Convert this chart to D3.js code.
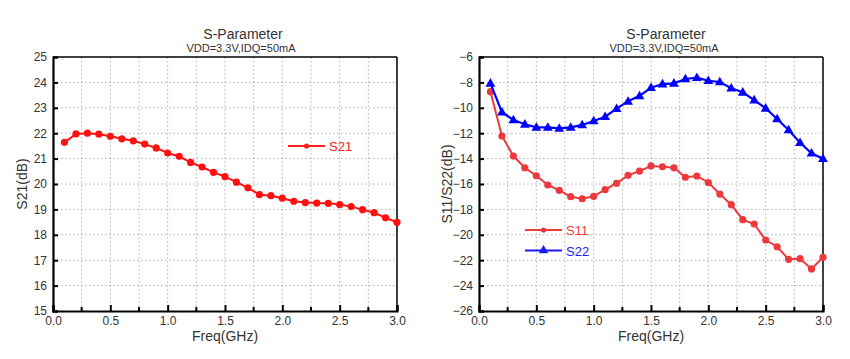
<!DOCTYPE html>
<html>
<head>
<meta charset="utf-8">
<script src="https://cdn.jsdelivr.net/npm/d3@7"></script>
<style>
  html, body { margin: 0; padding: 0; background: #fff; }
  svg { display: block; font-family: "Liberation Sans", Arial, sans-serif; }
</style>
</head>
<body>
<svg id="chart" width="850" height="359"></svg>
<script>
const freq = [0.1,0.2,0.3,0.4,0.5,0.6,0.7,0.8,0.9,1.0,1.1,1.2,1.3,1.4,1.5,1.6,1.7,1.8,1.9,2.0,2.1,2.2,2.3,2.4,2.5,2.6,2.7,2.8,2.9,3.0];
const s21 = [21.64,21.97,22.0,21.96,21.88,21.78,21.70,21.57,21.42,21.22,21.09,20.85,20.67,20.46,20.29,20.07,19.85,19.58,19.54,19.44,19.32,19.27,19.25,19.24,19.19,19.11,18.99,18.87,18.67,18.49];
const s11 = [-8.73,-12.22,-13.8,-14.72,-15.35,-16.08,-16.5,-17.0,-17.16,-16.97,-16.45,-15.94,-15.32,-14.98,-14.58,-14.64,-14.72,-15.47,-15.37,-15.88,-16.79,-17.63,-18.81,-19.15,-20.41,-20.94,-21.93,-21.88,-22.69,-21.77];
const s22 = [-8.07,-10.35,-10.96,-11.3,-11.54,-11.54,-11.62,-11.54,-11.35,-11.04,-10.7,-10.07,-9.49,-9.06,-8.42,-8.13,-8.07,-7.73,-7.63,-7.87,-7.97,-8.46,-8.78,-9.39,-10.04,-10.88,-11.75,-12.75,-13.58,-14.01];
const xTicks = [0.0,0.5,1.0,1.5,2.0,2.5,3.0];
const xMinor = [0.25,0.75,1.25,1.75,2.25,2.75];
const yTicksLeft = [15,16,17,18,19,20,21,22,23,24,25];
const yTicksRight = [-26,-24,-22,-20,-18,-16,-14,-12,-10,-8,-6];
const titleText = "S-Parameter";
const subtitleText = "VDD=3.3V,IDQ=50mA";

const svg = d3.select("#chart");

function panel(opts) {
  const g = svg.append("g");
  const x = d3.scaleLinear().domain([0,3]).range([opts.x0, opts.x1]);
  const y = d3.scaleLinear().domain(opts.yDomain).range([opts.y1, opts.y0]);

  // grid
  const gridX = xTicks.concat(xMinor).filter(v => v > 0 && v < 3);
  g.selectAll(".gx").data(gridX).enter().append("line")
    .attr("x1", d => x(d)).attr("x2", d => x(d))
    .attr("y1", opts.y0).attr("y2", opts.y1)
    .attr("stroke", "#b0b0b0").attr("stroke-width", 1).attr("stroke-dasharray", "1.5,2.5");
  const gridY = opts.yTicks.slice(1, -1);
  g.selectAll(".gy").data(gridY).enter().append("line")
    .attr("x1", opts.x0).attr("x2", opts.x1)
    .attr("y1", d => y(d)).attr("y2", d => y(d))
    .attr("stroke", "#b0b0b0").attr("stroke-width", 1).attr("stroke-dasharray", "1.5,2.5");

  // frame top/right
  g.append("line").attr("x1", opts.x0).attr("x2", opts.x1).attr("y1", opts.y0).attr("y2", opts.y0)
    .attr("stroke", "#000").attr("stroke-width", 1.5);
  g.append("line").attr("x1", opts.x1).attr("x2", opts.x1).attr("y1", opts.y0).attr("y2", opts.y1)
    .attr("stroke", "#000").attr("stroke-width", 1.5);

  // axes
  const xAxis = d3.axisBottom(x).tickValues(xTicks).tickFormat(d3.format(".1f")).tickSize(-6).tickPadding(5);
  const gx = g.append("g").attr("transform", `translate(0,${opts.y1})`).call(xAxis);
  gx.select(".domain").attr("stroke", "#000").attr("stroke-width", 2.2);
  gx.selectAll(".tick line").attr("stroke", "#000").attr("stroke-width", 2);
  gx.selectAll(".tick text").attr("font-size", 12).attr("fill", "#333").attr("font-family", "Liberation Sans, Arial, sans-serif");
  g.selectAll(".mx").data(xMinor).enter().append("line")
    .attr("x1", d => x(d)).attr("x2", d => x(d))
    .attr("y1", opts.y1).attr("y2", opts.y1 - 4)
    .attr("stroke", "#000").attr("stroke-width", 2);

  const yAxis = d3.axisLeft(y).tickValues(opts.yTicks).tickFormat(d3.format("d")).tickSize(-5).tickPadding(6);
  const gy = g.append("g").attr("transform", `translate(${opts.x0},0)`).call(yAxis);
  gy.select(".domain").attr("stroke", "#000").attr("stroke-width", 2.2);
  gy.selectAll(".tick line").attr("stroke", "#000").attr("stroke-width", 2);
  gy.selectAll(".tick text").attr("font-size", 12).attr("fill", "#333").attr("font-family", "Liberation Sans, Arial, sans-serif");

  // axis titles
  g.append("text").attr("x", (opts.x0 + opts.x1) / 2).attr("y", 341)
    .attr("text-anchor", "middle").attr("font-size", 14).attr("fill", "#333")
    .text("Freq(GHz)");
  g.append("text").attr("transform", `translate(${opts.yLabelX},${(opts.y0 + opts.y1) / 2}) rotate(-90)`)
    .attr("text-anchor", "middle").attr("font-size", 14).attr("fill", "#333")
    .text(opts.yLabel);

  // titles
  g.append("text").attr("x", opts.titleX).attr("y", 39).attr("text-anchor", "middle")
    .attr("font-size", 14).attr("fill", "#333").text(titleText);
  g.append("text").attr("x", opts.titleX - 2).attr("y", 52).attr("text-anchor", "middle")
    .attr("font-size", 11).attr("fill", "#333").text(subtitleText);

  return {g, x, y};
}

function series(p, values, color, marker, width) {
  const data = freq.map((f, i) => [f, values[i]]);
  const line = d3.line().x(d => p.x(d[0])).y(d => p.y(d[1]));
  p.g.append("path").datum(data).attr("d", line).attr("fill", "none")
    .attr("stroke", color).attr("stroke-width", width);
  drawMarkers(p.g, data.map(d => [p.x(d[0]), p.y(d[1])]), color, marker);
}

function drawMarkers(g, pts, color, marker) {
  if (marker === "circle") {
    g.selectAll(null).data(pts).enter().append("circle")
      .attr("cx", d => d[0]).attr("cy", d => d[1]).attr("r", 3.6).attr("fill", color);
  } else {
    const sym = d3.symbol().type(d3.symbolTriangle).size(42);
    g.selectAll(null).data(pts).enter().append("path")
      .attr("d", sym).attr("transform", d => `translate(${d[0]},${d[1] + 0.5})`).attr("fill", color);
  }
}

function legendItem(g, x1, x2, y, label, color, marker, mSize) {
  g.append("line").attr("x1", x1).attr("x2", x2).attr("y1", y).attr("y2", y)
    .attr("stroke", color).attr("stroke-width", 2);
  if (marker === "circle") {
    g.append("circle").attr("cx", (x1 + x2) / 2).attr("cy", y).attr("r", mSize).attr("fill", color);
  } else {
    g.append("path").attr("d", d3.symbol().type(d3.symbolTriangle).size(mSize)())
      .attr("transform", `translate(${(x1 + x2) / 2},${y})`).attr("fill", color);
  }
  g.append("text").attr("x", x2 + 4).attr("y", y + 5).attr("font-size", 13)
    .attr("fill", color).text(label);
}

// Left panel
const pL = panel({x0: 53, x1: 397, y0: 57, y1: 311, yDomain: [15, 25], yTicks: yTicksLeft,
  yLabel: "S21(dB)", yLabelX: 27, titleX: 243});
series(pL, s21, "#ff1010", "circle", 2);
legendItem(pL.g, 288, 325, 146, "S21", "#ff2020", "circle", 2.6);

// Right panel
const pR = panel({x0: 479, x1: 823, y0: 57, y1: 311, yDomain: [-26, -6], yTicks: yTicksRight,
  yLabel: "S11/S22(dB)", yLabelX: 452, titleX: 666});
series(pR, s11, "#ec3a3c", "circle", 2);
series(pR, s22, "#0000ff", "triangle", 2.2);
legendItem(pR.g, 525, 562, 230, "S11", "#ec3a3c", "circle", 2.6);
legendItem(pR.g, 525, 562, 250.5, "S22", "#1a1aff", "triangle", 40);
</script>
</body>
</html>
